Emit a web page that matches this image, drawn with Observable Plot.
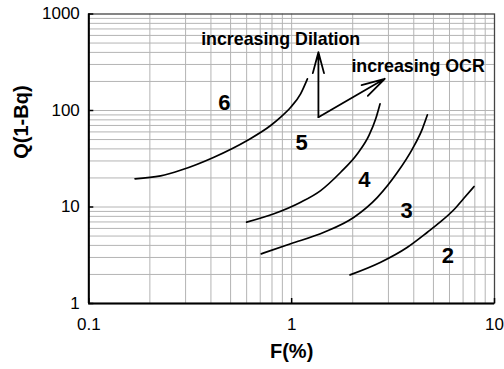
<!DOCTYPE html>
<html>
<head>
<meta charset="utf-8">
<script src="https://cdn.jsdelivr.net/npm/d3@7"></script>
<script src="https://cdn.jsdelivr.net/npm/@observablehq/plot@0.6"></script>
<style>
  html, body { margin: 0; padding: 0; background: #fff; }
  #chart { width: 504px; height: 369px; }
</style>
</head>
<body>
<div id="chart"></div>
<script>
// Curves (F in %, Q(1-Bq))
const curve6F = [0.169, 0.226, 0.283, 0.414, 0.604, 0.788, 0.883, 0.989, 1.107, 1.196];
const curve6Q = [19.6, 21.0, 24.0, 32.8, 48.9, 69.9, 85.3, 108, 149, 213];
const curve5F = [0.600, 0.818, 1.108, 1.390, 1.745, 2.110, 2.406, 2.597, 2.727];
const curve5Q = [6.96, 8.50, 11.2, 14.8, 22.9, 35.6, 55.1, 82.0, 117];
const curve4F = [0.708, 0.989, 1.444, 2.030, 2.647, 3.323, 3.94, 4.41, 4.67];
const curve4Q = [3.27, 4.16, 5.48, 7.84, 12.6, 22.9, 40.1, 64.6, 90.2];
const curve3F = [1.94, 2.748, 3.723, 4.67, 5.39, 6.32, 7.08, 7.93];
const curve3Q = [1.98, 2.68, 3.83, 5.48, 6.96, 9.42, 12.4, 16.3];

// Region labels
const labelText = ["6", "5", "4", "3", "2"];
const labelF = [0.466, 1.12, 2.28, 3.69, 5.89];
const labelQ = [121, 46.3, 19.2, 9.09, 3.08];

// Annotation arrows
const arrowF1 = [1.355, 1.355];
const arrowQ1 = [85.3, 85.3];
const arrowF2 = [1.355, 2.877];
const arrowQ2 = [402, 213];

// Annotation texts
const noteText = ["increasing Dilation", "increasing OCR"];
const noteF = [0.358, 1.97];
const noteQ = [551, 289];

// Ticks and grid lines
const xTicks = [0.1, 1, 10];
const yTicks = [1, 10, 100, 1000];
const xGrid = [0.2, 0.3, 0.4, 0.5, 0.6, 0.7, 0.8, 0.9, 1, 2, 3, 4, 5, 6, 7, 8, 9];
const yGrid = [2, 3, 4, 5, 6, 7, 8, 9, 10, 20, 30, 40, 50, 60, 70, 80, 90, 100,
               200, 300, 400, 500, 600, 700, 800, 900];

const rows = [];
[[curve6F, curve6Q, "6"], [curve5F, curve5Q, "5"], [curve4F, curve4Q, "4"], [curve3F, curve3Q, "3"]]
  .forEach(([fs, qs, id]) => fs.forEach((f, i) => rows.push({curve: id, F: f, Q: qs[i]})));

const W = 504, H = 369, ML = 88.3, MR = 10, MT = 13.5, MB = 66;
const pw = W - ML - MR, ph = H - MT - MB;
const font = "'Liberation Sans', Arial, Helvetica, sans-serif";

const chart = Plot.plot({
  width: W, height: H,
  marginLeft: ML, marginRight: MR, marginTop: MT, marginBottom: MB,
  style: {fontFamily: font, background: "#fff", color: "#000"},
  x: {type: "log", domain: [0.1, 10]},
  y: {type: "log", domain: [1, 1000]},
  marks: [
    Plot.gridX(xGrid, {stroke: "#b4b4b4", strokeOpacity: 1, strokeWidth: 1}),
    Plot.gridY(yGrid, {stroke: "#b4b4b4", strokeOpacity: 1, strokeWidth: 1}),
    Plot.frame({stroke: "#444", strokeWidth: 1.3}),
    Plot.ruleX([0.1], {stroke: "#000", strokeWidth: 2}),
    Plot.ruleY([1], {stroke: "#000", strokeWidth: 2}),
    Plot.tickY(yTicks, {y: d => d, stroke: "#000", strokeWidth: 1.5, insetRight: pw - 5}),
    Plot.tickX(xTicks, {x: d => d, stroke: "#000", strokeWidth: 1.5, insetTop: ph - 5}),
    Plot.axisX({ticks: xTicks, tickSize: 0, tickPadding: 14, tickFormat: d => String(d), fontSize: 17, label: null}),
    Plot.axisY({ticks: yTicks, tickSize: 0, tickPadding: 9, tickFormat: d => String(d), fontSize: 17, label: null}),
    Plot.line(rows, {x: "F", y: "Q", z: "curve", curve: "monotone-x", stroke: "#000", strokeWidth: 1.7}),
    Plot.arrow(arrowF1.map((d, i) => i), {
      x1: arrowF1, y1: arrowQ1, x2: arrowF2, y2: arrowQ2,
      stroke: "#000", strokeWidth: 1.8, headLength: 20, headAngle: 30
    }),
    Plot.text(labelText, {x: labelF, y: labelQ, text: labelText, fontSize: 22, fontWeight: "bold", fill: "#000"}),
    Plot.text(noteText, {x: noteF, y: noteQ, text: noteText, textAnchor: "start", fontSize: 17.8, fontWeight: "bold", fill: "#000"}),
    Plot.text(["F(%)"], {frameAnchor: "bottom", dy: 54.5, fontSize: 20, fontWeight: "bold", fill: "#000"}),
    Plot.text(["Q(1-Bq)"], {frameAnchor: "left", dx: -67, rotate: -90, fontSize: 20, fontWeight: "bold", fill: "#000"})
  ]
});
document.getElementById("chart").appendChild(chart);
</script>
</body>
</html>
